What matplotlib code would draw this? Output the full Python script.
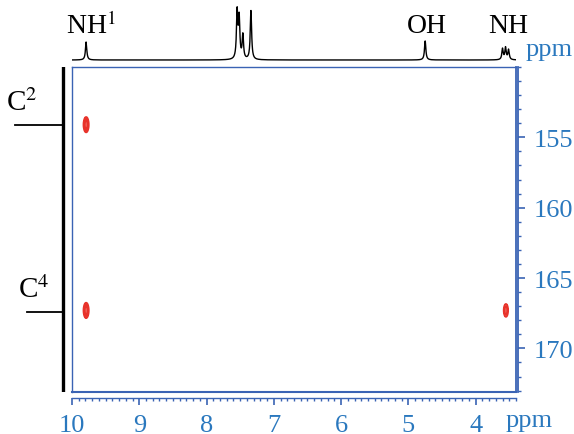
import numpy as np
import matplotlib
matplotlib.use("Agg")
import matplotlib.pyplot as plt
from matplotlib.ticker import MultipleLocator

plt.rcParams['font.family'] = ['Liberation Serif', 'DejaVu Serif']
plt.rcParams['mathtext.fontset'] = 'stix'

# 1H projection (top): shift in ppm, relative height
h_shifts = [9.79, 7.545, 7.515, 7.46, 7.34, 4.75, 3.60, 3.555, 3.51]
h_heights = [18, 47, 40, 24, 49, 19, 11, 12, 10]
h_labels = ['NH$^{1}$', 'OH', 'NH']
h_label_pos = [9.72, 4.73, 3.52]

# 13C side labels
c_labels = ['C$^{2}$', 'C$^{4}$']
c_shifts = [154.1, 167.4]

# HMBC cross peaks: (1H ppm, 13C ppm)
cross_h = [9.79, 9.79, 3.55]
cross_c = [154.1, 167.3, 167.3]
cross_w = [1.0, 1.0, 0.7]

xlim = (10.0, 3.4)
ylim = (173.1, 150.0)

blue = '#2a78be'
spine_blue = '#3a63b4'
red = '#e8332b'

fig = plt.figure(figsize=(5.74, 4.35), dpi=100)
W, H = 574, 435

def box(x0, y0, x1, y1):
    return [x0 / W, 1 - y1 / H, (x1 - x0) / W, (y1 - y0) / H]

# main 2D panel
ax = fig.add_axes(box(72, 68, 516, 393))
xx = np.linspace(xlim[1], xlim[0], 600)
yy = np.linspace(ylim[1], ylim[0], 600)
X, Y = np.meshgrid(xx, yy)
Z = np.zeros_like(X)
for hx, cy, w in zip(cross_h, cross_c, cross_w):
    Z += w * np.exp(-((X - hx) / 0.035) ** 2 - ((Y - cy) / 0.5) ** 2)
ax.contourf(X, Y, Z, levels=[0.3, 2], colors=['#f07a72'])
ax.contour(X, Y, Z, levels=[0.3, 0.5, 0.7], colors=red, linewidths=1.3)

ax.set_xlim(*xlim)
ax.set_ylim(*ylim)
ax.xaxis.set_major_locator(MultipleLocator(1))
ax.xaxis.set_minor_locator(MultipleLocator(0.1))
ax.yaxis.set_major_locator(MultipleLocator(5))
ax.yaxis.set_minor_locator(MultipleLocator(1))
ax.yaxis.tick_right()
ax.set_yticks([155, 160, 165, 170])
ax.set_xticks([10, 9, 8, 7, 6, 5, 4])
ax.tick_params(which='major', direction='out', length=5, width=1.2, color=spine_blue,
               labelcolor=blue, labelsize=19, pad=6)
ax.tick_params(which='minor', direction='out', length=2.5, width=1, color=spine_blue)
for s in ax.spines.values():
    s.set_color(spine_blue)
    s.set_linewidth(1.0)
# tick axes sit slightly outside the frame
ax.spines['bottom'].set_position(('outward', 4.5))
ax.spines['right'].set_position(('outward', 1.5))
ax.spines['right'].set_linewidth(1.3)
ax.axhline(ylim[0], color=spine_blue, lw=1.5, clip_on=False)
ax.axvline(xlim[1], color=spine_blue, lw=1.3, clip_on=False)
fig.text(529 / W, 1 - 421 / H, 'ppm', color=blue, fontsize=19, ha='center', va='center')

# top 1H trace
axt = fig.add_axes(box(72, 5, 516, 63))
hx = np.linspace(xlim[1], xlim[0], 4000)
trace = np.zeros_like(hx)
for s, h in zip(h_shifts, h_heights):
    trace += h / (1 + ((hx - s) / 0.012) ** 2)
axt.plot(hx, trace, color='black', lw=1.0)
axt.set_xlim(*xlim)
axt.set_ylim(-2, 56)
axt.axis('off')
for lab, pos in zip(h_labels, h_label_pos):
    axt.text(pos, 35, lab, ha='center', va='center', fontsize=20)
fig.text(549 / W, 1 - 50 / H, 'ppm', color=blue, fontsize=19, ha='center', va='center')

# left 13C projection
axl = fig.add_axes(box(0, 68, 72, 393))
axl.set_xlim(0, 72)
axl.set_ylim(*ylim)
axl.axvline(63, color='black', lw=2.4)
for lab, c, x0 in zip(c_labels, c_shifts, [15, 27]):
    axl.plot([x0, 63], [c, c], color='black', lw=1.3)
    axl.text(x0 + 7, c - 0.6, lab, ha='center', va='bottom', fontsize=21)
axl.axis('off')

fig.savefig('out.png', dpi=100)
